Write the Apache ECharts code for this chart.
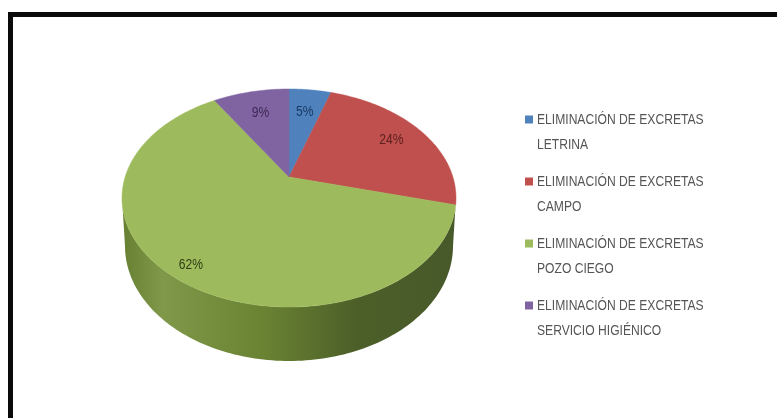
<!DOCTYPE html>
<html>
<head>
<meta charset="utf-8">
<style>
html,body{margin:0;padding:0;background:#fff;}
#c{width:777px;height:418px;filter:blur(0.6px);}
</style>
<script src="https://cdn.jsdelivr.net/npm/echarts@6/dist/echarts.min.js"></script>
</head>
<body>
<div id="c"></div>
<script>
const categories = [
  "ELIMINACIÓN DE EXCRETAS\nLETRINA",
  "ELIMINACIÓN DE EXCRETAS\nCAMPO",
  "ELIMINACIÓN DE EXCRETAS\nPOZO CIEGO",
  "ELIMINACIÓN DE EXCRETAS\nSERVICIO HIGIÉNICO"
];
const percentages = [5, 24, 62, 9];
const sliceColors = ["#4f81bd", "#c0504d", "#9dbb5c", "#8064a2"];
const labelColors = ["#1b3a63", "#5e201e", "#303f14", "#3c2a55"];
const labelReach = [0.6, 0.7, 1.0, 0.61];

const FONT = '"Liberation Sans", sans-serif';
const NARROW = 0.865;
const top3d = {cx: 289, cy: 198, rx: 167, ry: 109, apexY: 177};
const low3d = {cx: 289, cy: 246, rx: 164, ry: 115};
const legendBox = {iconX: 525, textX: 537, firstRow: 120, rowPitch: 62, lineHeight: 25};
const total = percentages.reduce((a, b) => a + b, 0);

function rim(angle) {
  const o = (top3d.apexY - top3d.cy) / top3d.ry;
  const ux = Math.sin(angle), uy = -Math.cos(angle);
  const b = o * uy;
  const t = -b + Math.sqrt(b * b - o * o + 1);
  return [top3d.cx + top3d.rx * t * ux, top3d.cy + top3d.ry * (o + t * uy)];
}

function renderSlice(params, api) {
  const i = params.seriesIndex - 1;
  const start = api.value(1) / total * 2 * Math.PI;
  const end = start + api.value(0) / total * 2 * Math.PI;
  const pts = [[top3d.cx, top3d.apexY]];
  const steps = Math.max(8, Math.ceil((end - start) * 40));
  for (let s = 0; s <= steps; s++) pts.push(rim(start + (end - start) * s / steps));
  const mid = (start + end) / 2;
  const color = api.visual('color');
  return {
    type: 'group',
    children: [
      {type: 'polygon', shape: {points: pts}, style: {fill: color, stroke: color, lineWidth: 0.5}},
      {
        type: 'text',
        x: top3d.cx + labelReach[i] * top3d.rx * Math.sin(mid),
        y: top3d.apexY - labelReach[i] * top3d.ry * Math.cos(mid),
        scaleX: NARROW,
        style: {
          text: api.value(0) + '%',
          fill: labelColors[i],
          font: '14px ' + FONT,
          align: 'center',
          verticalAlign: 'middle'
        }
      }
    ]
  };
}

function renderWall() {
  const pts = [];
  const n = 120;
  for (let s = 0; s <= n; s++) {
    const a = Math.PI * s / n;
    pts.push([top3d.cx + top3d.rx * Math.cos(a), top3d.cy + top3d.ry * Math.sin(a)]);
  }
  for (let s = n; s >= 0; s--) {
    const a = Math.PI * s / n;
    pts.push([low3d.cx + low3d.rx * Math.cos(a), low3d.cy + low3d.ry * Math.sin(a)]);
  }
  return {
    type: 'polygon',
    shape: {points: pts},
    style: {
      fill: new echarts.graphic.LinearGradient(0, 0, 1, 0, [
        {offset: 0, color: '#667f30'},
        {offset: 0.12, color: '#7f9849'},
        {offset: 0.42, color: '#6a8333'},
        {offset: 0.7, color: '#4c5f28'},
        {offset: 1, color: '#48592a'}
      ])
    }
  };
}

let running = 0;
const sliceSeries = categories.map((name, i) => {
  const s = {
    type: 'custom',
    name: name,
    coordinateSystem: 'none',
    renderItem: renderSlice,
    itemStyle: {color: sliceColors[i]},
    data: [[percentages[i], running]],
    animation: false,
    silent: true
  };
  running += percentages[i];
  return s;
});

const legendGraphics = [];
categories.forEach((name, i) => {
  const row = legendBox.firstRow + i * legendBox.rowPitch;
  legendGraphics.push({
    type: 'rect',
    shape: {x: legendBox.iconX, y: row - 4.5, width: 8, height: 8},
    style: {fill: sliceColors[i]},
    silent: true
  });
  legendGraphics.push({
    type: 'text',
    x: legendBox.textX,
    y: row - legendBox.lineHeight / 2,
    scaleX: NARROW,
    style: {
      text: name,
      font: '14px ' + FONT,
      lineHeight: legendBox.lineHeight,
      fill: '#555555',
      align: 'left',
      verticalAlign: 'top'
    },
    silent: true
  });
});

const chart = echarts.init(document.getElementById('c'), null, {renderer: 'canvas', width: 777, height: 418});
chart.setOption({
  backgroundColor: '#ffffff',
  animation: false,
  graphic: [{
    type: 'rect',
    shape: {x: 10.5, y: 14.5, width: 800, height: 500},
    style: {fill: 'none', stroke: '#0a0a0a', lineWidth: 5},
    silent: true
  }].concat(legendGraphics),
  series: [{
    type: 'custom',
    name: 'pared',
    coordinateSystem: 'none',
    renderItem: renderWall,
    data: [[1]],
    animation: false,
    silent: true
  }].concat(sliceSeries)
});
</script>
</body>
</html>
